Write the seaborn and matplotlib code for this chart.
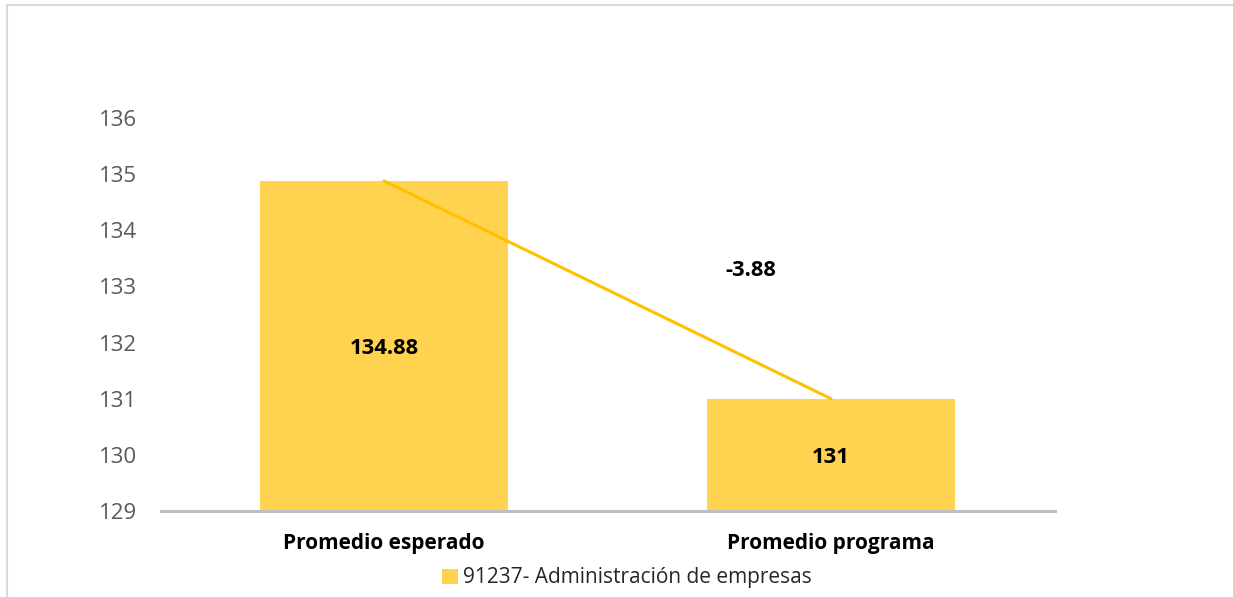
import matplotlib
matplotlib.use("Agg")
import matplotlib.pyplot as plt
import seaborn as sns
from matplotlib.patches import Patch, Rectangle

categories = ["Promedio esperado", "Promedio programa"]
values = [134.88, 131]
series_name = "91237- Administración de empresas"
yticks = [129, 130, 131, 132, 133, 134, 135, 136]

bar_color = "#FFD34F"
line_color = "#FFC000"

sns.set_theme(style="white")
plt.rcParams["font.family"] = ["Open Sans", "DejaVu Sans"]

fig = plt.figure(figsize=(12.33, 5.97), dpi=100)
ax = fig.add_axes([160.5 / 1233, 1 - 511 / 597, (1054.5 - 160.5) / 1233, (511 - 61.9) / 597])

sns.barplot(x=categories, y=values, color=bar_color, width=0.555, ax=ax,
            saturation=1, edgecolor="none")
ax.plot([0, 1], values, color=line_color, lw=2.2, zorder=5)

ax.set_ylim(129, 137)
ax.set_xlim(-0.5, 1.5)
ax.set_yticks(yticks)
ax.set_yticklabels([str(t) for t in yticks], color="#595959", fontsize=16)
ax.tick_params(axis="y", length=0, pad=17)
ax.tick_params(axis="x", length=0, pad=15.5)
for lbl in ax.get_xticklabels():
    lbl.set_fontweight("bold")
    lbl.set_fontsize(15)
    lbl.set_color("black")
for s in ["top", "right", "left"]:
    ax.spines[s].set_visible(False)
ax.spines["bottom"].set_color("#BFBFBF")
ax.spines["bottom"].set_linewidth(2.2)
ax.set_ylabel("")
ax.set_xlabel("")

for i, v in enumerate(values):
    label = f"{v:g}"
    ax.text(i, (129 + v) / 2, label, ha="center", va="center_baseline",
            fontsize=15.8, fontweight="bold", color="black")

diff = values[1] - values[0]
ax.text(0.82, 133.33, f"{diff:.2f}", ha="center", va="center_baseline",
        fontsize=15.8, fontweight="bold", color="black")

fig.legend(handles=[Patch(facecolor=bar_color, edgecolor="none", label=series_name)],
           loc="center", bbox_to_anchor=(627 / 1233, 1 - 578 / 597), frameon=False,
           fontsize=15, handlelength=0.75, handleheight=0.75, handletextpad=0.25,
           labelcolor="#262626")

fig.patches.append(Rectangle((7 / 1233, -0.1), 1.1, 1 - 5 / 597 + 0.1,
                             transform=fig.transFigure, fill=False,
                             edgecolor="#D9D9D9", lw=1.5))

fig.savefig("out.png", dpi=100)
